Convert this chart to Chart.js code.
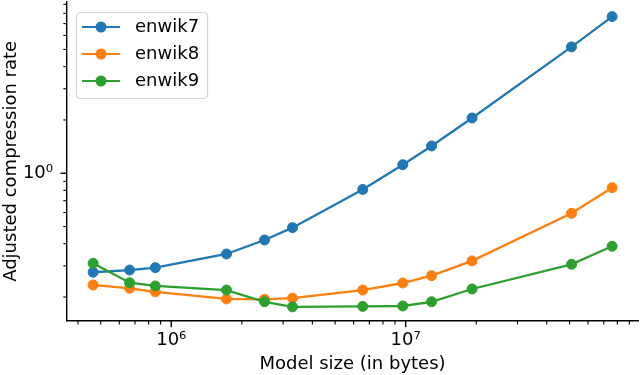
<!DOCTYPE html>
<html>
<head>
<meta charset="utf-8">
<script src="https://cdn.jsdelivr.net/npm/chart.js@4/dist/chart.umd.min.js"></script>
<style>
  html, body { margin: 0; padding: 0; background: #fff; }
  #chart { display: block; }
</style>
</head>
<body>
<canvas id="chart" width="640" height="375"></canvas>
<script>
// Model sizes (bytes) and adjusted compression rate per dataset
const modelSizes = [4.64e5, 6.64e5, 8.55e5, 1.72e6, 2.50e6, 3.29e6, 6.56e6, 9.72e6, 1.29e7, 1.92e7, 5.10e7, 7.60e7];
const enwik7 = [0.276, 0.284, 0.293, 0.350, 0.420, 0.493, 0.810, 1.118, 1.426, 2.053, 5.17, 7.67];
const enwik8 = [0.234, 0.224, 0.214, 0.195, 0.194, 0.197, 0.219, 0.240, 0.264, 0.320, 0.594, 0.829];
const enwik9 = [0.310, 0.241, 0.231, 0.219, 0.188, 0.176, 0.177, 0.178, 0.188, 0.222, 0.306, 0.387];

const seriesNames = ['enwik7', 'enwik8', 'enwik9'];
const seriesColors = ['#1f77b4', '#ff7f0e', '#2ca02c'];

// axis ranges and ticks (log axes)
const xRange = [3.59e5, 9.8e7];
const yRange = [0.147, 9.27];
const xMajorTicks = [1e6, 1e7];
const yMajorTicks = [1];
const xMinorTicks = [4e5, 5e5, 6e5, 7e5, 8e5, 9e5, 2e6, 3e6, 4e6, 5e6, 6e6, 7e6, 8e6, 9e6,
                     2e7, 3e7, 4e7, 5e7, 6e7, 7e7, 8e7, 9e7];
const yMinorTicks = [0.2, 0.3, 0.4, 0.5, 0.6, 0.7, 0.8, 0.9, 2, 3, 4, 5, 6, 7, 8, 9];

const superscripts = {'0': '⁰', '6': '⁶', '7': '⁷'};

Chart.defaults.font.family = '"DejaVu Sans", sans-serif';
Chart.defaults.color = '#000';

function toPoints(ys) {
    return modelSizes.map((x, i) => ({x: x, y: ys[i]}));
}

function tickList(major, minor) {
    return major.map(v => ({value: v, major: true}))
        .concat(minor.map(v => ({value: v, major: false})))
        .sort((a, b) => a.value - b.value);
}

function powerLabel(v, majors) {
    if (!majors.includes(v)) return '';
    return '10' + superscripts[String(Math.round(Math.log10(v)))];
}

function noPadding(s) {
    s.paddingTop = 0; s.paddingBottom = 0; s.paddingLeft = 0; s.paddingRight = 0;
}

// small line+dot icons for the legend
const legendIcons = seriesColors.map(c => {
    const cv = document.createElement('canvas');
    cv.width = 38; cv.height = 12;
    const g = cv.getContext('2d');
    g.strokeStyle = c; g.lineWidth = 2.2;
    g.beginPath(); g.moveTo(0, 6); g.lineTo(38, 6); g.stroke();
    g.fillStyle = c;
    g.beginPath(); g.arc(19, 6, 5.5, 0, Math.PI * 2); g.fill();
    return cv;
});

// matplotlib-like tick marks: long for majors, short for minors
const tickMarks = {
    id: 'tickMarks',
    afterDraw(chart) {
        const {ctx, chartArea, scales} = chart;
        ctx.save();
        ctx.strokeStyle = '#000';
        scales.x.ticks.forEach(t => {
            if (t.value < scales.x.min || t.value > scales.x.max) return;
            const px = scales.x.getPixelForValue(t.value);
            ctx.lineWidth = t.major ? 1.4 : 1.1;
            ctx.beginPath();
            ctx.moveTo(px, chartArea.bottom);
            ctx.lineTo(px, chartArea.bottom + (t.major ? 6.5 : 3.7));
            ctx.stroke();
        });
        scales.y.ticks.forEach(t => {
            if (t.value < scales.y.min || t.value > scales.y.max) return;
            const py = scales.y.getPixelForValue(t.value);
            ctx.lineWidth = t.major ? 1.4 : 1.1;
            ctx.beginPath();
            ctx.moveTo(chartArea.left, py);
            ctx.lineTo(chartArea.left - (t.major ? 6.5 : 3.7), py);
            ctx.stroke();
        });
        ctx.restore();
    }
};

// rounded frame around the legend
const legendFrame = {
    id: 'legendFrame',
    afterDraw(chart) {
        const lg = chart.legend;
        if (!lg || !lg.legendHitBoxes.length) return;
        const boxes = lg.legendHitBoxes;
        const left = lg.left + 9;
        const top = boxes[0].top - 6;
        const right = Math.max(...boxes.map(b => b.left + b.width)) + 8;
        const bottom = boxes[boxes.length - 1].top + boxes[boxes.length - 1].height + 8;
        const ctx = chart.ctx;
        ctx.save();
        ctx.strokeStyle = '#d6d6d6';
        ctx.lineWidth = 1.2;
        ctx.beginPath();
        ctx.roundRect(left + 0.5, top + 0.5, right - left, bottom - top, 4);
        ctx.stroke();
        ctx.restore();
    }
};

const datasets = [enwik7, enwik8, enwik9].map((ys, i) => ({
    label: seriesNames[i],
    data: toPoints(ys),
    borderColor: seriesColors[i],
    backgroundColor: seriesColors[i],
    borderWidth: 2.3,
    pointRadius: 5,
    pointBorderWidth: 1,
    pointHoverRadius: 5,
    tension: 0,
    clip: false,
    order: 3 - i
}));

new Chart(document.getElementById('chart'), {
    type: 'line',
    data: { datasets: datasets },
    plugins: [tickMarks, legendFrame],
    options: {
        responsive: false,
        animation: false,
        layout: { autoPadding: false, padding: { top: 2, right: 2, left: 0, bottom: 0 } },
        plugins: {
            tooltip: { enabled: false },
            legend: {
                position: 'chartArea',
                align: 'start',
                title: { display: true, text: ' ', font: { size: 1, lineHeight: 1 }, padding: { top: 8, bottom: 0 } },
                labels: {
                    font: { size: 18 },
                    color: '#000',
                    padding: 9,
                    usePointStyle: true,
                    pointStyleWidth: 50,
                    sort: (a, b) => a.datasetIndex - b.datasetIndex,
                    generateLabels: chart => Chart.defaults.plugins.legend.labels.generateLabels(chart)
                        .map(item => Object.assign(item, { pointStyle: legendIcons[item.datasetIndex] }))
                }
            }
        },
        scales: {
            x: {
                type: 'logarithmic',
                min: xRange[0],
                max: xRange[1],
                afterBuildTicks: s => { s.ticks = tickList(xMajorTicks, xMinorTicks); },
                afterFit: s => { s.height = 54.3; noPadding(s); },
                grid: { display: false, drawTicks: false },
                border: { display: true, color: '#000', width: 1.4 },
                ticks: {
                    autoSkip: false,
                    maxRotation: 0,
                    padding: 9,
                    font: { size: 18 },
                    callback: v => powerLabel(v, xMajorTicks)
                },
                title: {
                    display: true,
                    text: 'Model size (in bytes)',
                    font: { size: 18, lineHeight: 1.2 },
                    padding: { top: 0, bottom: 0 }
                }
            },
            y: {
                type: 'logarithmic',
                min: yRange[0],
                max: yRange[1],
                afterBuildTicks: s => { s.ticks = tickList(yMajorTicks, yMinorTicks); },
                afterFit: s => { s.width = 67; noPadding(s); },
                grid: { display: false, drawTicks: false },
                border: { display: true, color: '#000', width: 1.4 },
                ticks: {
                    autoSkip: false,
                    padding: 14,
                    font: { size: 18 },
                    callback: v => powerLabel(v, yMajorTicks)
                },
                title: {
                    display: true,
                    text: 'Adjusted compression rate',
                    font: { size: 18, lineHeight: 1.2 },
                    padding: { top: 1, bottom: 0 }
                }
            }
        }
    }
});
</script>
</body>
</html>
